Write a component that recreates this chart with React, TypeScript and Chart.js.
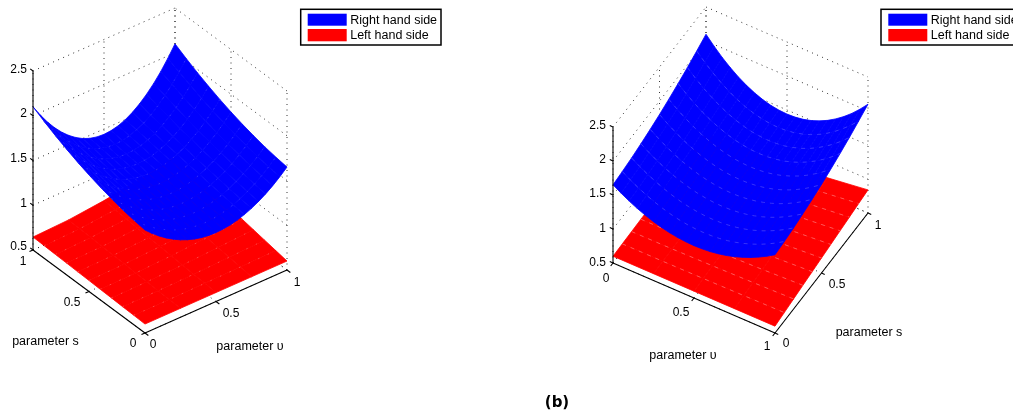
import React, { useEffect, useRef } from "react";
import { Chart, registerables } from "chart.js";

Chart.register(...registerables);

const W = 1013;
const H = 412;

const sGrid = [0, 0.1, 0.2, 0.3, 0.4, 0.5, 0.6, 0.7, 0.8, 0.9, 1];
const vGrid = [0, 0.05, 0.1, 0.15, 0.2, 0.25, 0.3, 0.35, 0.4, 0.45, 0.5, 0.55, 0.6, 0.65, 0.7, 0.75, 0.8, 0.85, 0.9, 0.95, 1];
const vGridLhs = [0, 0.25, 0.5, 0.75, 1];

const rhsS00 = [1.65, 1.578, 1.513, 1.456, 1.407, 1.365, 1.331, 1.304, 1.285, 1.274, 1.27, 1.274, 1.285, 1.304, 1.331, 1.365, 1.407, 1.456, 1.513, 1.578, 1.65];
const rhsS01 = [1.669, 1.596, 1.531, 1.474, 1.425, 1.383, 1.348, 1.321, 1.302, 1.291, 1.287, 1.291, 1.302, 1.321, 1.348, 1.383, 1.425, 1.474, 1.531, 1.596, 1.669];
const rhsS02 = [1.693, 1.619, 1.553, 1.495, 1.444, 1.401, 1.366, 1.339, 1.32, 1.308, 1.304, 1.308, 1.32, 1.339, 1.366, 1.401, 1.444, 1.495, 1.553, 1.619, 1.693];
const rhsS03 = [1.724, 1.647, 1.579, 1.518, 1.466, 1.422, 1.385, 1.357, 1.337, 1.325, 1.321, 1.325, 1.337, 1.357, 1.385, 1.422, 1.466, 1.518, 1.579, 1.647, 1.724];
const rhsS04 = [1.76, 1.68, 1.608, 1.545, 1.49, 1.444, 1.406, 1.376, 1.355, 1.342, 1.338, 1.342, 1.355, 1.376, 1.406, 1.444, 1.49, 1.545, 1.608, 1.68, 1.76];
const rhsS05 = [1.802, 1.717, 1.641, 1.574, 1.516, 1.467, 1.427, 1.395, 1.373, 1.359, 1.355, 1.359, 1.373, 1.395, 1.427, 1.467, 1.516, 1.574, 1.641, 1.717, 1.802];
const rhsS06 = [1.85, 1.759, 1.678, 1.606, 1.544, 1.492, 1.448, 1.415, 1.391, 1.377, 1.372, 1.377, 1.391, 1.415, 1.448, 1.492, 1.544, 1.606, 1.678, 1.759, 1.85];
const rhsS07 = [1.904, 1.806, 1.718, 1.641, 1.574, 1.518, 1.471, 1.435, 1.41, 1.394, 1.389, 1.394, 1.41, 1.435, 1.471, 1.518, 1.574, 1.641, 1.718, 1.806, 1.904];
const rhsS08 = [1.963, 1.857, 1.762, 1.679, 1.607, 1.545, 1.495, 1.456, 1.428, 1.412, 1.406, 1.412, 1.428, 1.456, 1.495, 1.545, 1.607, 1.679, 1.762, 1.857, 1.963];
const rhsS09 = [2.029, 1.914, 1.811, 1.72, 1.641, 1.574, 1.52, 1.478, 1.447, 1.429, 1.423, 1.429, 1.447, 1.478, 1.52, 1.574, 1.641, 1.72, 1.811, 1.914, 2.029];
const rhsS10 = [2.1, 1.975, 1.862, 1.763, 1.678, 1.605, 1.546, 1.499, 1.466, 1.447, 1.44, 1.447, 1.466, 1.499, 1.546, 1.605, 1.678, 1.763, 1.862, 1.975, 2.1];
const rhsRows = [rhsS00, rhsS01, rhsS02, rhsS03, rhsS04, rhsS05, rhsS06, rhsS07, rhsS08, rhsS09, rhsS10];

const lhsS00 = [0.6, 0.6, 0.6, 0.6, 0.6];
const lhsS01 = [0.605, 0.606, 0.61, 0.616, 0.624];
const lhsS02 = [0.609, 0.612, 0.62, 0.632, 0.648];
const lhsS03 = [0.614, 0.618, 0.63, 0.648, 0.672];
const lhsS04 = [0.618, 0.624, 0.64, 0.664, 0.696];
const lhsS05 = [0.623, 0.63, 0.65, 0.68, 0.72];
const lhsS06 = [0.627, 0.636, 0.66, 0.696, 0.744];
const lhsS07 = [0.632, 0.642, 0.67, 0.712, 0.768];
const lhsS08 = [0.636, 0.648, 0.68, 0.728, 0.792];
const lhsS09 = [0.641, 0.654, 0.69, 0.744, 0.816];
const lhsS10 = [0.645, 0.66, 0.7, 0.76, 0.84];
const lhsRows = [lhsS00, lhsS01, lhsS02, lhsS03, lhsS04, lhsS05, lhsS06, lhsS07, lhsS08, lhsS09, lhsS10];

const zTicks = [0.5, 1, 1.5, 2, 2.5];
const planeTicks = [0, 0.5, 1];
const legendLabels = ["Right hand side", "Left hand side"];
const sTitle = "parameter s";
const vTitle = "parameter \u03c5";
const caption = "(b)";

const panels = [
  {
    o: [145, 333], vv: [142, -63], sv: [-112, -83], zk: 89.5,
    zAxis: { s: 1, v: 0, ds: 0.025, dv: 0 },
    sAxisV: 0, sTickDv: -0.025,
    vAxisS: 0, vTickDs: -0.03,
    wallV: 1,
    zLabelPos: [[27, 246], [27, 203], [27, 158], [27, 113], [27, 69]],
    sLabelPos: [[133, 343], [72, 302], [23, 261]],
    vLabelPos: [[153, 344], [231, 313], [297, 282]],
    sTitlePos: [45.5, 341], vTitlePos: [250, 346],
    legendX: 300.7, patchX: 307.7, textX: 350.2,
    dash: [1.5, 9],
    blueDash: "rgba(120,120,255,0.5)", redDash: "rgba(255,170,170,0.55)",
  },
  {
    o: [613, 263], vv: [162, 70], sv: [93, -120], zk: 68,
    zAxis: { s: 0, v: 0, ds: 0, dv: -0.02 },
    sAxisV: 1, sTickDv: 0.02,
    vAxisS: 0, vTickDs: -0.025,
    wallV: 0,
    zLabelPos: [[606, 262], [606, 228], [606, 193], [606, 159], [606, 125]],
    sLabelPos: [[786, 343], [837, 284], [878, 225]],
    vLabelPos: [[606, 278], [681, 312], [767, 346]],
    sTitlePos: [869, 332], vTitlePos: [683, 355],
    legendX: 881, patchX: 888.3, textX: 930.8,
    dash: [4, 5],
    blueDash: "rgba(120,120,255,0.6)", redDash: "rgba(255,170,170,0.7)",
  },
];

type P = (typeof panels)[number];
const proj = (p: P, s: number, v: number, z: number) => ({
  x: p.o[0] + v * p.vv[0] + s * p.sv[0],
  y: p.o[1] + v * p.vv[1] + s * p.sv[1] - (z - 0.5) * p.zk,
});

const line = (data: any[], color: string, width: number, dash: number[] = []) => ({
  type: "scatter", data, showLine: true, pointRadius: 0, borderColor: color, borderWidth: width,
  borderDash: dash, fill: false, tension: 0,
});

const surface = (p: P, rows: number[][], vs: number[], color: string, dashColor: string) => {
  const out: any[] = [];
  for (let i = 0; i < rows.length - 1; i++) {
    for (let j = 0; j < vs.length - 1; j++) {
      const quad = [
        proj(p, sGrid[i], vs[j], rows[i][j]),
        proj(p, sGrid[i], vs[j + 1], rows[i][j + 1]),
        proj(p, sGrid[i + 1], vs[j + 1], rows[i + 1][j + 1]),
        proj(p, sGrid[i + 1], vs[j], rows[i + 1][j]),
        proj(p, sGrid[i], vs[j], rows[i][j]),
      ];
      out.push({ ...line(quad, color, 0.8), fill: "shape", backgroundColor: color });
    }
  }
  for (let i = 1; i < rows.length - 1; i++) {
    out.push(line(vs.map((v, j) => proj(p, sGrid[i], v, rows[i][j])), dashColor, 0.7, p.dash));
  }
  return out;
};

const buildDatasets = () => {
  const ds: any[] = [];
  const grid = "rgba(30,30,30,0.9)";
  const dots = [1, 4.5];
  const dotW = 1;
  for (const p of panels) {
    for (const z of zTicks) {
      ds.push(line([proj(p, 1, 0, z), proj(p, 1, 1, z)], grid, dotW, dots));
      ds.push(line([proj(p, 0, p.wallV, z), proj(p, 1, p.wallV, z)], grid, dotW, dots));
    }
    for (const t of planeTicks) {
      ds.push(line([proj(p, 1, t, 0.5), proj(p, 1, t, 2.5)], grid, dotW, dots));
      ds.push(line([proj(p, t, p.wallV, 0.5), proj(p, t, p.wallV, 2.5)], grid, dotW, dots));
      ds.push(line([proj(p, 0, t, 0.5), proj(p, 1, t, 0.5)], grid, dotW, dots));
      ds.push(line([proj(p, t, 0, 0.5), proj(p, t, 1, 0.5)], grid, dotW, dots));
    }
    ds.push(...surface(p, lhsRows, vGridLhs, "#ff0000", p.redDash));
    ds.push(...surface(p, rhsRows, vGrid, "#0000ff", p.blueDash));

    const k = "#000000";
    const a = p.zAxis;
    const w = 1.1;
    ds.push(line([proj(p, a.s, a.v, 0.5), proj(p, a.s, a.v, 2.5)], k, w));
    for (const z of zTicks) {
      ds.push(line([proj(p, a.s, a.v, z), proj(p, a.s + a.ds, a.v + a.dv, z)], k, w));
    }
    ds.push(line([proj(p, 0, p.sAxisV, 0.5), proj(p, 1, p.sAxisV, 0.5)], k, w));
    ds.push(line([proj(p, 0, 0, 0.5), proj(p, 0, 1, 0.5)], k, w));
    for (const t of planeTicks) {
      ds.push(line([proj(p, t, p.sAxisV, 0.5), proj(p, t, p.sAxisV + p.sTickDv, 0.5)], k, w));
      ds.push(line([proj(p, p.vAxisS, t, 0.5), proj(p, p.vAxisS + p.vTickDs, t, 0.5)], k, w));
    }
  }
  return ds.reverse();
};

const textPlugin = {
  id: "panelText",
  afterDatasetsDraw(chart: any) {
    const { ctx, scales } = chart;
    const px = (x: number) => scales.x.getPixelForValue(x);
    const py = (y: number) => scales.y.getPixelForValue(y);
    const text = (t: string, x: number, y: number, align: CanvasTextAlign = "center") => {
      ctx.textAlign = align;
      ctx.fillText(t, px(x), py(y + 1));
    };
    const tickFont = "12px 'Liberation Sans'";
    const wideFont = "12.5px 'Liberation Sans'";
    ctx.save();
    ctx.textBaseline = "middle";
    ctx.fillStyle = "#000";
    for (const p of panels) {
      ctx.font = tickFont;
      zTicks.forEach((t, i) => text(String(t), p.zLabelPos[i][0], p.zLabelPos[i][1], "right"));
      planeTicks.forEach((t, i) => {
        text(String(t), p.sLabelPos[i][0], p.sLabelPos[i][1]);
        text(String(t), p.vLabelPos[i][0], p.vLabelPos[i][1]);
      });
      ctx.font = wideFont;
      text(sTitle, p.sTitlePos[0], p.sTitlePos[1]);
      text(vTitle, p.vTitlePos[0], p.vTitlePos[1]);

      ctx.fillStyle = "#fff";
      ctx.fillRect(px(p.legendX), py(9.3), 140.3, 35.7);
      ctx.strokeStyle = "#000";
      ctx.lineWidth = 1.5;
      ctx.strokeRect(px(p.legendX), py(9.3), 140.3, 35.7);
      ctx.fillStyle = "#0000ff";
      ctx.fillRect(px(p.patchX), py(13.7), 39, 12);
      ctx.fillStyle = "#ff0000";
      ctx.fillRect(px(p.patchX), py(29), 39, 12.3);
      ctx.fillStyle = "#000";
      text(legendLabels[0], p.textX, 19.5, "left");
      text(legendLabels[1], p.textX, 34.5, "left");
    }
    ctx.font = "bold 15px 'DejaVu Sans'";
    text(caption, 557, 402);
    ctx.restore();
  },
};

export default function App() {
  const ref = useRef<HTMLCanvasElement>(null);
  useEffect(() => {
    const chart = new Chart(ref.current as HTMLCanvasElement, {
      type: "scatter",
      data: { datasets: buildDatasets() },
      options: {
        animation: false,
        responsive: false,
        events: [],
        layout: { padding: 0 },
        plugins: { legend: { display: false }, tooltip: { enabled: false } },
        scales: {
          x: { type: "linear", display: false, min: 0, max: W },
          y: { type: "linear", display: false, min: 0, max: H, reverse: true },
        },
      },
      plugins: [textPlugin],
    } as any);
    return () => chart.destroy();
  }, []);
  return (
    <div style={{ position: "fixed", left: 0, top: 0, width: W, height: H, background: "#fff" }}>
      <canvas ref={ref} width={W} height={H} style={{ display: "block", width: W, height: H }} />
    </div>
  );
}
